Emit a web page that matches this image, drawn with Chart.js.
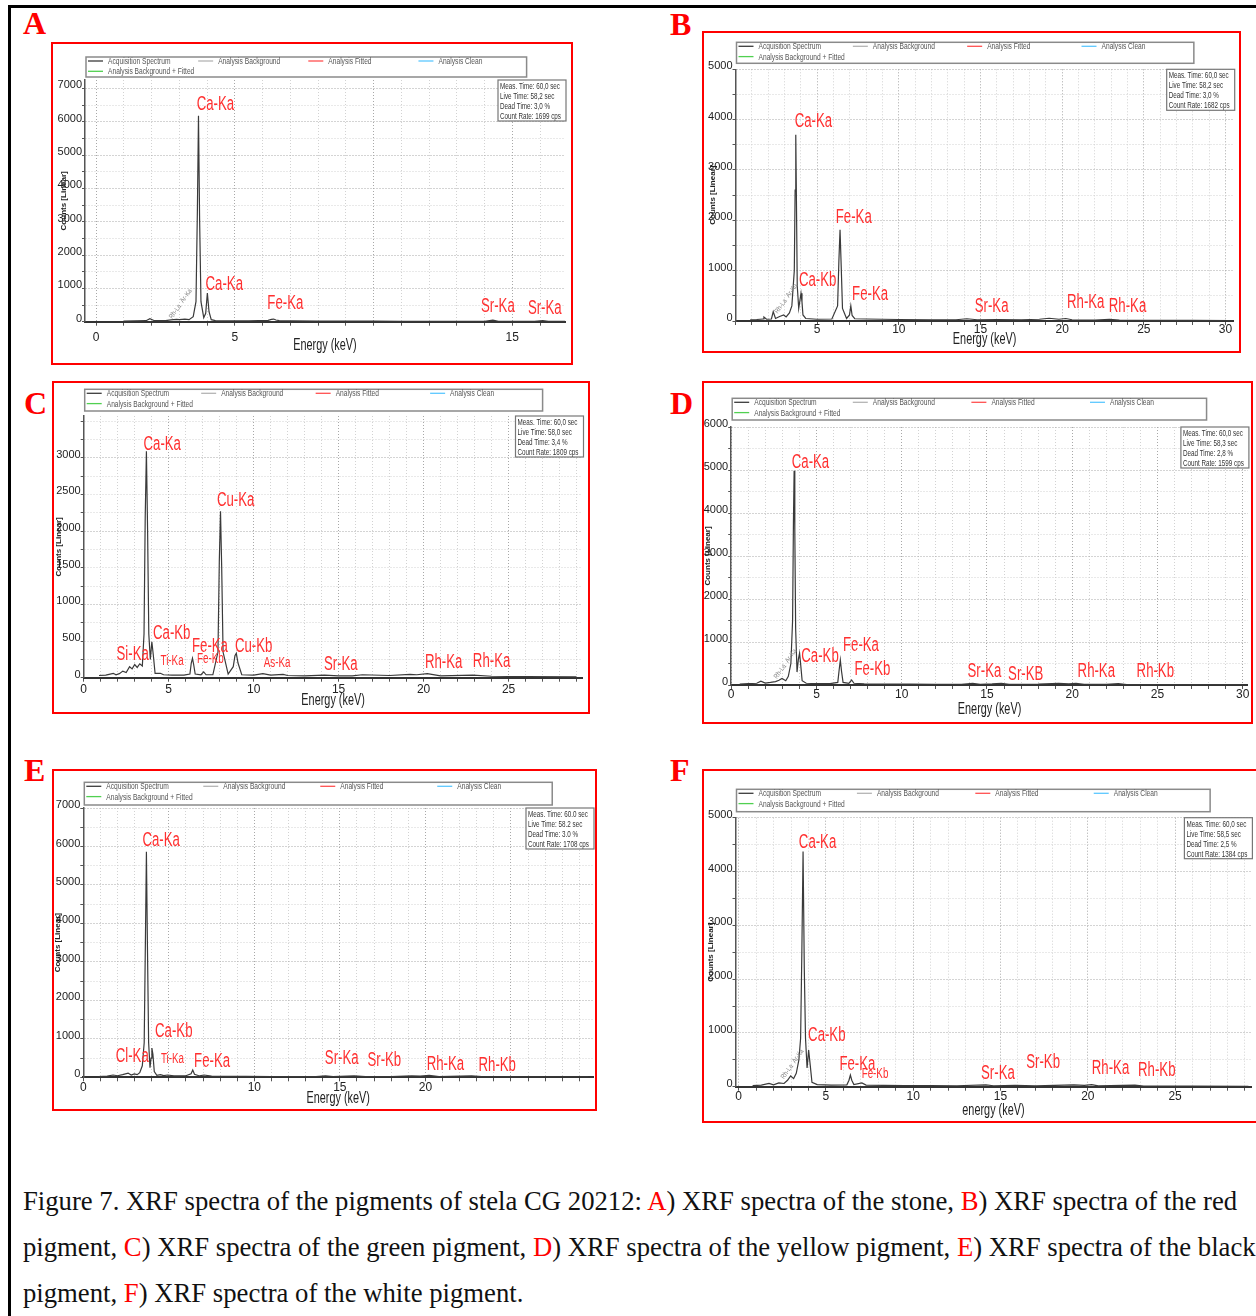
<!DOCTYPE html>
<html>
<head>
<meta charset="utf-8">
<script src="https://cdn.jsdelivr.net/npm/chart.js@4.4.0/dist/chart.umd.min.js"></script>
<style>
body{margin:0;background:#fff;width:1256px;height:1316px;overflow:hidden;position:relative;font-family:'Liberation Serif','Times New Roman',serif}
.frame{position:absolute;left:8px;top:5px;width:1270px;height:1330px;border-left:3px solid #000;border-top:3px solid #000}
.box{position:absolute;border:2px solid #f00;box-sizing:border-box}
.box canvas{position:absolute;left:-2px;top:-2px}
.tag{position:absolute;font-weight:bold;font-size:32px;line-height:32px;color:#f00;font-family:'Liberation Serif',serif}
.cap{position:absolute;left:23px;font-size:26.7px;line-height:30px;white-space:nowrap;color:#111}
.cap span{color:#f00}
</style>
</head>
<body>
<div class="frame"></div>
<div class="tag" style="left:23px;top:7px">A</div>
<div class="tag" style="left:670px;top:8px">B</div>
<div class="tag" style="left:24px;top:387px">C</div>
<div class="tag" style="left:670px;top:387px">D</div>
<div class="tag" style="left:24px;top:754px">E</div>
<div class="tag" style="left:670px;top:754px">F</div>
<div id="panels"></div>
<div class="cap" style="top:1186px">Figure 7. XRF spectra of the pigments of stela CG 20212: <span>A</span>) XRF spectra of the stone, <span>B</span>) XRF spectra of the red</div>
<div class="cap" style="top:1232px">pigment, <span>C</span>) XRF spectra of the green pigment, <span>D</span>) XRF spectra of the yellow pigment, <span>E</span>) XRF spectra of the black</div>
<div class="cap" style="top:1278px">pigment, <span>F</span>) XRF spectra of the white pigment.</div>
<script>
// spectra: energy in keV, counts
const energyA = [1.0, 1.4, 1.8, 1.94, 2.1, 2.5, 2.7, 2.9, 3.0, 3.2, 3.35, 3.5, 3.6, 3.65, 3.69, 3.73, 3.78, 3.88, 3.95, 4.01, 4.07, 4.15, 4.3, 4.8, 5.5, 6.2, 6.32, 6.40, 6.48, 6.6, 7.1, 8, 9, 10, 11, 12, 13, 14, 14.3, 14.5, 15, 15.8, 16.1, 16.3, 16.9];
const countsA = [20, 25, 30, 90, 30, 35, 55, 70, 60, 80, 60, 150, 600, 3300, 6180, 3100, 600, 120, 250, 860, 300, 60, 30, 25, 25, 40, 70, 80, 50, 30, 25, 20, 18, 15, 12, 12, 12, 14, 45, 14, 12, 12, 35, 12, 10];

const energyB = [0.9, 1.3, 1.7, 1.74, 1.9, 2.2, 2.31, 2.45, 2.7, 2.95, 3.1, 3.3, 3.45, 3.6, 3.65, 3.69, 3.73, 3.78, 3.87, 3.95, 4.01, 4.07, 4.13, 4.3, 5.0, 5.9, 6.25, 6.33, 6.40, 6.47, 6.55, 6.8, 6.98, 7.06, 7.14, 7.3, 8, 9, 10, 12, 13.5, 14.16, 14.8, 16, 17.5, 18.6, 19.2, 19.8, 20.22, 20.6, 22, 22.9, 23.5, 26, 28, 30.3];
const countsB = [25, 30, 40, 80, 35, 40, 185, 50, 90, 120, 80, 160, 300, 1000, 2600, 3700, 2400, 700, 250, 420, 550, 380, 120, 50, 35, 40, 300, 1200, 1810, 1100, 250, 50, 120, 300, 110, 45, 40, 35, 30, 25, 25, 45, 25, 30, 25, 35, 55, 35, 50, 25, 20, 35, 18, 15, 12, 10];

const energyC = [0.9, 1.3, 1.74, 1.9, 2.1, 2.3, 2.5, 2.7, 2.85, 3.0, 3.15, 3.3, 3.45, 3.55, 3.62, 3.69, 3.76, 3.83, 3.92, 4.01, 4.1, 4.2, 4.51, 4.7, 5.2, 5.9, 6.25, 6.33, 6.40, 6.47, 6.56, 6.9, 7.06, 7.2, 7.6, 7.9, 7.98, 8.05, 8.12, 8.2, 8.5, 8.8, 8.9, 8.98, 9.08, 9.3, 10, 10.54, 11, 11.73, 12, 13, 14.16, 15, 15.8, 16.4, 18, 19.2, 19.6, 20.22, 21, 22.9, 24, 26, 29];
const countsC = [30, 35, 60, 40, 55, 90, 70, 150, 120, 180, 140, 190, 160, 600, 2200, 3090, 2000, 600, 250, 490, 300, 60, 60, 40, 35, 35, 50, 200, 264, 180, 50, 40, 80, 40, 40, 350, 1600, 2270, 1500, 350, 50, 150, 300, 333, 200, 40, 35, 55, 35, 45, 30, 25, 35, 25, 25, 40, 30, 45, 40, 55, 25, 35, 20, 15, 12];

const energyD = [0.5, 1.0, 1.5, 1.74, 2.0, 2.3, 2.6, 2.8, 2.98, 3.2, 3.35, 3.5, 3.6, 3.65, 3.69, 3.73, 3.78, 3.86, 3.94, 4.01, 4.08, 4.16, 4.4, 5.0, 5.8, 6.25, 6.33, 6.40, 6.47, 6.56, 6.9, 7.06, 7.2, 7.8, 9, 10.5, 12, 13.5, 14.16, 14.6, 15.3, 15.84, 16.3, 18, 19.2, 19.8, 20.22, 20.7, 22, 22.7, 23.2, 26, 30];
const countsD = [20, 30, 40, 90, 45, 60, 80, 110, 150, 100, 200, 500, 1500, 3800, 4980, 3600, 1300, 300, 600, 740, 450, 100, 40, 30, 30, 60, 350, 581, 320, 60, 40, 116, 40, 25, 22, 20, 18, 18, 40, 18, 25, 40, 18, 20, 40, 25, 40, 18, 15, 30, 12, 10, 8];

const energyE = [0.9, 1.4, 1.74, 2.0, 2.3, 2.62, 2.8, 2.98, 3.15, 3.3, 3.45, 3.56, 3.63, 3.69, 3.75, 3.82, 3.9, 3.96, 4.01, 4.07, 4.15, 4.3, 4.51, 4.7, 4.93, 5.3, 6.0, 6.3, 6.40, 6.5, 6.8, 7.06, 7.5, 8.5, 9.5, 11, 12.5, 13.6, 14.16, 14.6, 15.84, 16.5, 18, 19.2, 19.7, 20.22, 20.8, 22.7, 23.3, 26, 29.5];
const countsE = [20, 30, 60, 40, 70, 110, 60, 90, 70, 120, 300, 900, 3500, 5860, 3400, 900, 250, 500, 760, 600, 150, 50, 70, 45, 60, 35, 40, 90, 190, 80, 35, 60, 30, 25, 22, 20, 18, 20, 40, 18, 35, 18, 20, 40, 30, 50, 20, 35, 15, 12, 10];

const energyF = [0.8, 1.3, 1.74, 2.0, 2.3, 2.6, 2.8, 2.98, 3.15, 3.3, 3.45, 3.55, 3.62, 3.69, 3.76, 3.83, 3.92, 4.01, 4.1, 4.2, 4.5, 5.3, 6.2, 6.32, 6.40, 6.48, 6.6, 7.06, 7.3, 8.3, 9.5, 11, 12.5, 14.16, 14.6, 15.84, 17, 19.2, 19.8, 20.22, 20.6, 22.7, 23.2, 26, 29.2];
const countsF = [20, 30, 60, 35, 70, 60, 120, 200, 150, 250, 500, 900, 2500, 4370, 2200, 900, 350, 680, 400, 80, 40, 30, 35, 120, 217, 120, 40, 70, 30, 25, 22, 20, 18, 35, 18, 25, 15, 35, 25, 40, 15, 30, 12, 10, 8];

// tick labels shown on each panel
const xTicksA = [0, 5, 15];
const xTicksB = [5, 10, 15, 20, 25, 30];
const xTicksC = [0, 5, 10, 15, 20, 25];
const xTicksD = [0, 5, 10, 15, 20, 25, 30];
const xTicksE = [0, 10, 15, 20];
const xTicksF = [0, 5, 10, 15, 20, 25];
const yTicksA = [0, 1000, 2000, 3000, 4000, 5000, 6000, 7000];
const yTicksB = [0, 1000, 2000, 3000, 4000, 5000];
const yTicksC = [0, 500, 1000, 1500, 2000, 2500, 3000];
const yTicksD = [0, 1000, 2000, 3000, 4000, 5000, 6000];
const yTicksE = [0, 1000, 2000, 3000, 4000, 5000, 6000, 7000];
const yTicksF = [0, 1000, 2000, 3000, 4000, 5000];

// peak labels: [text, keV, counts]
const peakLabelsA = [['Ca-Ka', 4.30, 6350], ['Ca-Ka', 4.62, 951], ['Fe-Ka', 6.82, 381], ['Sr-Ka', 14.48, 291], ['Sr-Ka', 16.17, 231]];
const peakLabelsB = [['Ca-Ka', 4.77, 3863], ['Fe-Ka', 7.24, 1942], ['Ca-Kb', 5.03, 696], ['Fe-Ka', 8.24, 417], ['Sr-Ka', 15.68, 185], ['Rh-Ka', 21.44, 252], ['Rh-Ka', 24.0, 185]];
const peakLabelsC = [['Ca-Ka', 4.62, 3106], ['Cu-Ka', 8.94, 2342], ['Ca-Kb', 5.18, 524], ['Fe-Ka', 7.43, 355], ['Cu-Kb', 10.0, 355], ['Si-Ka', 2.88, 241], ['Sr-Ka', 15.13, 105], ['Rh-Ka', 21.18, 128], ['Rh-Ka', 24.0, 150]];
const peakLabelsD = [['Ca-Ka', 4.65, 5040], ['Ca-Kb', 5.21, 542], ['Fe-Ka', 7.61, 798], ['Fe-Kb', 8.28, 233], ['Sr-Ka', 14.85, 193], ['Sr-KB', 17.27, 116], ['Rh-Ka', 21.41, 193], ['Rh-Kb', 24.87, 193]];
const peakLabelsE = [['Ca-Ka', 4.55, 6005], ['Ca-Kb', 5.29, 1046], ['Cl-Ka', 2.86, 402], ['Fe-Ka', 7.53, 273], ['Sr-Ka', 15.11, 343], ['Sr-Kb', 17.6, 291], ['Rh-Ka', 21.17, 188], ['Rh-Kb', 24.2, 162]];
const peakLabelsF = [['Ca-Ka', 4.52, 4444], ['Ca-Kb', 5.05, 846], ['Fe-Ka', 6.8, 309], ['Sr-Ka', 14.85, 143], ['Sr-Kb', 17.44, 341], ['Rh-Ka', 21.3, 230], ['Rh-Kb', 23.95, 198]];
const minorLabelsC = [['Ti-Ka', 5.2, 173], ['Fe-Kb', 7.45, 205], ['As-Ka', 11.38, 150]];
const minorLabelsE = [['Ti-Ka', 5.21, 361]];
const minorLabelsF = [['Fe-Kb', 7.81, 154]];
const lineNotesA = [['Rh-La  Ar-Ka', 3.1, 500]];
const lineNotesB = [['Rh-La  Ar-Ka', 3.2, 420]];
const lineNotesD = [['Rh-La  Ar-Ka', 3.27, 465]];
const lineNotesF = [['Rh-La  Ar-Ka', 3.17, 400]];

const infoA = ['Meas. Time: 60,0 sec', 'Live Time: 58,2 sec', 'Dead Time: 3,0 %', 'Count Rate: 1699 cps'];
const infoB = ['Meas. Time: 60,0 sec', 'Live Time: 58,2 sec', 'Dead Time: 3,0 %', 'Count Rate: 1682 cps'];
const infoC = ['Meas. Time: 60,0 sec', 'Live Time: 58,0 sec', 'Dead Time: 3,4 %', 'Count Rate: 1809 cps'];
const infoD = ['Meas. Time: 60,0 sec', 'Live Time: 58,3 sec', 'Dead Time: 2,8 %', 'Count Rate: 1599 cps'];
const infoE = ['Meas. Time: 60.0 sec', 'Live Time: 58.2 sec', 'Dead Time: 3.0 %', 'Count Rate: 1708 cps'];
const infoF = ['Meas. Time: 60,0 sec', 'Live Time: 58,5 sec', 'Dead Time: 2,5 %', 'Count Rate: 1384 cps'];

const seriesNames = ['Acquisition Spectrum', 'Analysis Background', 'Analysis Fitted', 'Analysis Clean', 'Analysis Background + Fitted'];
const seriesColors = ['#3a3a3a', '#b4b4b4', '#ff5050', '#5cc8ff', '#50d050'];

const panels = [
  {id: 'A', energy: energyA, counts: countsA, xTicks: xTicksA, yTicks: yTicksA, peaks: peakLabelsA, minor: [], notes: lineNotesA, info: infoA, xTitle: 'Energy (keV)'},
  {id: 'B', energy: energyB, counts: countsB, xTicks: xTicksB, yTicks: yTicksB, peaks: peakLabelsB, minor: [], notes: lineNotesB, info: infoB, xTitle: 'Energy (keV)'},
  {id: 'C', energy: energyC, counts: countsC, xTicks: xTicksC, yTicks: yTicksC, peaks: peakLabelsC, minor: minorLabelsC, notes: [], info: infoC, xTitle: 'Energy (keV)'},
  {id: 'D', energy: energyD, counts: countsD, xTicks: xTicksD, yTicks: yTicksD, peaks: peakLabelsD, minor: [], notes: lineNotesD, info: infoD, xTitle: 'Energy (keV)'},
  {id: 'E', energy: energyE, counts: countsE, xTicks: xTicksE, yTicks: yTicksE, peaks: peakLabelsE, minor: minorLabelsE, notes: [], info: infoE, xTitle: 'Energy (keV)'},
  {id: 'F', energy: energyF, counts: countsF, xTicks: xTicksF, yTicks: yTicksF, peaks: peakLabelsF, minor: minorLabelsF, notes: lineNotesF, info: infoF, xTitle: 'energy (keV)'}
];

// page geometry of each panel: red box, plot area, axis ranges
const frames = {
  A: {box: [51, 42, 573, 365], plot: [85, 80, 565, 321.7], xr: [-0.4, 16.9], yr: [0, 7250], yStep: 250, yGrid: 500, tickPad: 5, hx: 32.3, titleDy: 28.5, yTitlePad: 6.6, legendY: [57, 77]},
  B: {box: [702, 31, 1241, 353], plot: [735.5, 69.3, 1233.7, 321], xr: [0, 30.5], yr: [0, 5000], yStep: 500, yGrid: 500, tickPad: -2.5, hx: 27, titleDy: 23.2, yTitlePad: 4.6, legendY: [42.3, 63.3]},
  C: {box: [52, 381, 590, 714], plot: [83.7, 416, 582.5, 677.7], xr: [0, 29.35], yr: [0, 3570], yStep: 250, yGrid: 250, tickPad: 0.3, hx: 31.3, titleDy: 27.5, yTitlePad: 1, legendY: [389.3, 411]},
  D: {box: [702, 381, 1253, 724], plot: [731.2, 427, 1247.9, 685], xr: [0, 30.3], yr: [0, 6000], yStep: 500, yGrid: 500, tickPad: -2, hx: 32.3, titleDy: 28.5, yTitlePad: 0, legendY: [398.3, 420]},
  E: {box: [52, 769, 597, 1111], plot: [83.3, 808, 593, 1077.3], xr: [0, 29.8], yr: [0, 7000], yStep: 500, yGrid: 500, tickPad: -0.6, hx: 29.2, titleDy: 25.4, yTitlePad: 0, legendY: [782.3, 805]},
  F: {box: [702, 769, 1262, 1123], plot: [735.5, 817.7, 1251.4, 1086.7], xr: [-0.18, 29.37], yr: [0, 5000], yStep: 500, yGrid: 500, tickPad: -1.7, hx: 32.3, titleDy: 28.5, yTitlePad: 2.8, legendY: [789.3, 811.7]}
};

const sans = "'Liberation Sans', Arial, sans-serif";
const extras = {};

function squeeze(ctx, txt, x, y, size, sx, color, align) {
  ctx.save();
  ctx.font = size + 'px ' + sans;
  ctx.fillStyle = color;
  ctx.textAlign = align || 'center';
  ctx.textBaseline = 'alphabetic';
  ctx.translate(x, y);
  ctx.scale(sx, 1);
  ctx.fillText(txt, 0, 0);
  ctx.restore();
}

const xrfPlugin = {
  id: 'xrf',
  afterDraw(chart) {
    const p = extras[chart.canvas.id];
    if (!p) return;
    const f = frames[p.id];
    const {ctx, chartArea: a, scales: {x, y}} = chart;
    const top0 = f.box[1];

    // legend box above the plot
    const lx1 = a.left + 1, lx2 = a.left + (a.right - a.left) * 0.92;
    const ly1 = f.legendY[0] - top0, ly2 = f.legendY[1] - top0;
    ctx.save();
    ctx.strokeStyle = '#8a8a8a';
    ctx.lineWidth = 1.5;
    ctx.strokeRect(lx1, ly1, lx2 - lx1, ly2 - ly1);
    const colW = (lx2 - lx1) / 4;
    chart.data.datasets.forEach((ds, i) => {
      const col = i % 4, row = Math.floor(i / 4);
      const cx = lx1 + col * colW + 2;
      const cy = ly1 + 4 + row * 10.3;
      ctx.strokeStyle = ds.borderColor;
      ctx.lineWidth = 1.3;
      ctx.beginPath();
      ctx.moveTo(cx, cy);
      ctx.lineTo(cx + 15, cy);
      ctx.stroke();
      squeeze(ctx, ds.label, cx + 20, cy + 3, 9.5, 0.7, '#555', 'left');
    });
    ctx.restore();

    // acquisition info box in the top right corner
    ctx.save();
    ctx.fillStyle = '#fff';
    ctx.fillRect(a.right - 67, a.top, 68, 41);
    ctx.strokeStyle = '#777';
    ctx.lineWidth = 1.2;
    ctx.strokeRect(a.right - 67, a.top, 68, 41);
    p.info.forEach((t, i) => squeeze(ctx, t, a.right - 65, a.top + 9 + i * 10, 9, 0.7, '#333', 'left'));
    ctx.restore();

    // x axis title, condensed like the instrument software
    squeeze(ctx, p.xTitle, (a.left + a.right) / 2, a.bottom + f.titleDy, 17, 0.64, '#222');

    // peak identifications
    p.peaks.forEach(([t, e, c]) => squeeze(ctx, t, x.getPixelForValue(e), y.getPixelForValue(c), 20, 0.66, '#ff3030'));
    p.minor.forEach(([t, e, c]) => squeeze(ctx, t, x.getPixelForValue(e), y.getPixelForValue(c), 14, 0.7, '#ff3030'));
    p.notes.forEach(([t, e, c]) => {
      ctx.save();
      ctx.translate(x.getPixelForValue(e), y.getPixelForValue(c));
      ctx.rotate(-55 * Math.PI / 180);
      squeeze(ctx, t, 0, 0, 7, 0.85, '#888');
      ctx.restore();
    });
  }
};

panels.forEach(p => {
  const f = frames[p.id];
  const [bl, bt, br, bb] = f.box;
  const [pl, pt, pr, pb] = f.plot;
  const W = Math.round(br - bl), H = Math.round(bb - bt);
  const wrap = document.createElement('div');
  wrap.className = 'box';
  wrap.style.left = bl + 'px';
  wrap.style.top = bt + 'px';
  wrap.style.width = W + 'px';
  wrap.style.height = H + 'px';
  const cv = document.createElement('canvas');
  cv.id = p.id;
  cv.width = W;
  cv.height = H;
  cv.style.width = W + 'px';
  cv.style.height = H + 'px';
  wrap.appendChild(cv);
  document.getElementById('panels').appendChild(wrap);
  extras[p.id] = p;

  const spectrum = p.energy.map((e, i) => ({x: e, y: p.counts[i]}));
  const datasets = seriesNames.map((name, i) => ({
    label: name,
    data: i === 0 ? spectrum : [],
    borderColor: seriesColors[i],
    borderWidth: 1.2,
    pointRadius: 0,
    tension: 0
  }));
  const yw = pl - bl - 1;
  const hidden = 'rgba(0,0,0,0)';
  const yLine = (v, major, minor) => v % 1000 === 0 ? major : (v % f.yGrid === 0 ? minor : hidden);

  new Chart(cv, {
    type: 'line',
    data: {datasets},
    plugins: [xrfPlugin],
    options: {
      responsive: false,
      animation: false,
      layout: {padding: {left: 1, top: pt - bt, right: br - pr, bottom: bb - pb - f.hx}},
      plugins: {legend: {display: false}, tooltip: {enabled: false}},
      scales: {
        x: {
          type: 'linear', min: f.xr[0], max: f.xr[1],
          afterFit: s => { s.height = f.hx; },
          ticks: {stepSize: 1, includeBounds: false, autoSkip: false, maxRotation: 0, minRotation: 0, padding: f.tickPad, color: '#222', font: {family: sans, size: 12},
            callback: v => p.xTicks.includes(v) ? String(v) : ''},
          grid: {color: c => c.tick && c.tick.value % 5 === 0 ? '#a8a8a8' : '#d2d2d2', lineWidth: 1, tickLength: 4, tickColor: '#555'},
          border: {display: true, color: '#333', width: 2, dash: [1, 2]},
          title: {display: false}
        },
        y: {
          type: 'linear', min: f.yr[0], max: f.yr[1],
          afterFit: s => { s.width = yw; },
          ticks: {stepSize: f.yStep, includeBounds: false, autoSkip: false, padding: 0, labelOffset: -3, color: '#222', font: {family: sans, size: 11},
            callback: v => p.yTicks.includes(v) ? String(v) : ''},
          grid: {color: c => c.tick ? yLine(c.tick.value, '#a8a8a8', '#d2d2d2') : hidden, lineWidth: 1, tickLength: 3,
            tickColor: c => c.tick ? yLine(c.tick.value, '#555', '#555') : hidden},
          border: {display: true, color: '#555', width: 1.5, dash: [1, 2]},
          title: {display: true, text: 'Counts [Linear]', color: '#222', padding: {top: f.yTitlePad, bottom: 0}, font: {family: sans, size: 8, weight: 'bold'}}
        }
      }
    }
  });
});
</script>
</body>
</html>
